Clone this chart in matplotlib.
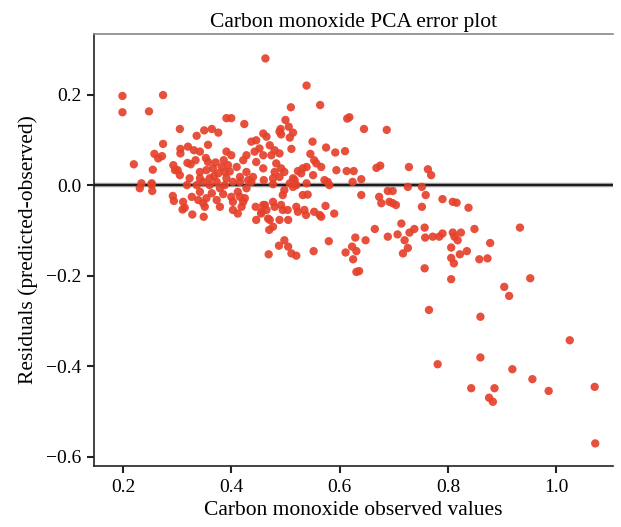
import matplotlib
matplotlib.use('Agg')
import matplotlib.pyplot as plt

observed = [
    0.463, 0.199, 0.199, 0.248, 0.274, 0.391, 0.400, 0.424,
    0.305, 0.350, 0.364, 0.376, 0.336, 0.357, 0.274,
    0.306, 0.320, 0.331, 0.342, 0.306, 0.258, 0.265, 0.272,
    0.220, 0.255, 0.293, 0.301, 0.319, 0.325, 0.357,
    0.391, 0.400, 0.386, 0.394, 0.388,
    0.437, 0.446, 0.459, 0.465, 0.452, 0.443, 0.428, 0.422, 0.459, 0.446, 0.459, 0.428, 0.440, 0.460,
    0.342, 0.354, 0.366, 0.376, 0.342, 0.360, 0.373, 0.391, 0.403, 0.416, 0.431, 0.323, 0.305, 0.296,
    0.234, 0.253,
    0.231, 0.253, 0.254, 0.292, 0.294, 0.311, 0.314, 0.310, 0.328, 0.349,
    0.327, 0.339, 0.348, 0.354, 0.351, 0.342, 0.336, 0.348, 0.360, 0.379, 0.373, 0.379,
    0.400, 0.403, 0.412, 0.416, 0.422, 0.425, 0.403, 0.412, 0.419, 0.428, 0.437, 0.416, 0.388,
    0.445, 0.459, 0.465, 0.446, 0.455, 0.468, 0.470, 0.469,
    0.539, 0.510, 0.564, 0.614, 0.618, 0.645, 0.687,
    0.500, 0.506, 0.491, 0.489, 0.492, 0.514, 0.508,
    0.550, 0.511, 0.575, 0.592, 0.610, 0.471, 0.480, 0.489, 0.474,
    0.546, 0.553, 0.557, 0.566, 0.539, 0.532, 0.523, 0.529,
    0.483, 0.492, 0.480, 0.498, 0.489, 0.477,
    0.594, 0.613, 0.626, 0.551, 0.668, 0.675, 0.728, 0.763, 0.769,
    0.572, 0.578, 0.640, 0.477, 0.514, 0.520, 0.539, 0.624, 0.508,
    0.689, 0.698, 0.726, 0.752,
    0.498, 0.514, 0.517, 0.581, 0.495, 0.532, 0.541, 0.640,
    0.673, 0.677, 0.692, 0.698, 0.704, 0.752, 0.759,
    0.462, 0.477, 0.480, 0.492, 0.495, 0.504, 0.520, 0.523, 0.535, 0.538, 0.553, 0.563, 0.566, 0.574, 0.590,
    0.456, 0.471, 0.489, 0.505, 0.477,
    0.498, 0.488, 0.505, 0.511, 0.520,
    0.552, 0.580, 0.611, 0.623, 0.631, 0.625, 0.629, 0.648, 0.631, 0.636,
    0.665, 0.689, 0.707, 0.714, 0.720, 0.726, 0.717, 0.729, 0.738, 0.757, 0.758, 0.757, 0.765,
    0.790, 0.809, 0.816, 0.838,
    0.772, 0.784, 0.790, 0.809, 0.812, 0.818, 0.824, 0.849, 0.878, 0.933,
    0.806, 0.806, 0.811, 0.822, 0.835, 0.858, 0.873,
    0.806, 0.904, 0.913, 0.952,
    0.860, 1.025, 0.781, 0.860, 0.919, 0.956, 0.986, 1.071, 0.843, 0.886, 0.876, 0.883, 1.072,
    0.368, 0.382, 0.397, 0.410, 0.353, 0.334, 0.318, 0.364, 0.385, 0.371,
]
residuals = [
    0.280, 0.197, 0.161, 0.163, 0.199, 0.148, 0.148, 0.135,
    0.124, 0.121, 0.124, 0.116, 0.109, 0.089, 0.091,
    0.080, 0.085, 0.077, 0.074, 0.070, 0.069, 0.059, 0.064,
    0.046, 0.034, 0.044, 0.033, 0.049, 0.046, 0.051,
    0.074, 0.066, 0.055, 0.044, 0.029,
    0.096, 0.099, 0.114, 0.107, 0.081, 0.074, 0.066, 0.055, 0.066, 0.051, 0.037, 0.029, 0.018, 0.011,
    0.029, 0.033, 0.037, 0.026, 0.015, 0.015, 0.007, 0.015, 0.007, 0.018, 0.011, 0.015, 0.022, 0.033,
    0.004, 0.004,
    -0.007, 0.000, -0.013, -0.024, -0.035, -0.037, -0.050, -0.054, -0.065, -0.070,
    -0.026, -0.033, -0.040, -0.029, -0.048, -0.015, 0.000, 0.007, 0.000, -0.007, -0.033, -0.048,
    -0.026, -0.037, -0.015, -0.026, -0.037, -0.029, -0.055, -0.063, -0.048, -0.007, 0.007, 0.007, 0.000,
    -0.048, -0.044, -0.055, -0.077, -0.063, -0.074, -0.099, -0.153,
    0.220, 0.172, 0.177, 0.147, 0.150, 0.124, 0.122,
    0.144, 0.129, 0.124, 0.118, 0.112, 0.116, 0.105,
    0.096, 0.080, 0.083, 0.072, 0.075, 0.088, 0.077, 0.070, 0.066,
    0.069, 0.055, 0.048, 0.040, 0.040, 0.037, 0.031, 0.026,
    0.048, 0.037, 0.029, 0.029, 0.018, 0.015,
    0.033, 0.031, 0.031, 0.022, 0.038, 0.043, 0.040, 0.035, 0.022,
    0.011, 0.007, 0.013, 0.002, 0.015, 0.000, 0.004, 0.007, 0.004,
    -0.013, -0.013, -0.004, -0.004,
    -0.011, -0.004, 0.011, 0.000, -0.022, -0.022, -0.021, -0.022,
    -0.026, -0.040, -0.037, -0.040, -0.044, -0.048, -0.022,
    -0.044, -0.037, -0.048, -0.044, -0.055, -0.055, -0.048, -0.059, -0.055, -0.066, -0.059, -0.066, -0.070, -0.046, -0.063,
    -0.059, -0.077, -0.077, -0.077, -0.092,
    -0.122, -0.134, -0.136, -0.151, -0.156,
    -0.146, -0.124, -0.149, -0.136, -0.146, -0.164, -0.116, -0.122, -0.192, -0.190,
    -0.097, -0.114, -0.109, -0.085, -0.122, -0.139, -0.151, -0.105, -0.097, -0.094, -0.116, -0.184, -0.276,
    -0.031, -0.037, -0.039, -0.050,
    -0.114, -0.114, -0.107, -0.105, -0.114, -0.122, -0.105, -0.097, -0.128, -0.094,
    -0.138, -0.161, -0.173, -0.153, -0.146, -0.164, -0.162,
    -0.208, -0.225, -0.245, -0.206,
    -0.291, -0.343, -0.396, -0.381, -0.407, -0.429, -0.455, -0.446, -0.449, -0.449, -0.470, -0.479, -0.571,
    0.020, 0.040, 0.030, 0.040, 0.060, 0.055, 0.000, -0.018, -0.020, 0.050,
]
x_ticks = [0.2, 0.4, 0.6, 0.8, 1.0]
y_ticks = [0.2, 0.0, -0.2, -0.4, -0.6]

plt.rcParams['font.family'] = ['Liberation Serif', 'DejaVu Serif']
plt.rcParams['axes.unicode_minus'] = True

fig = plt.figure(figsize=(6.21, 5.27), dpi=100)
ax = fig.add_axes([0.1514, 0.1157, 0.835, 0.8198])

ax.axhline(0, color='#9a9a9a', lw=3.2, zorder=1)
ax.axhline(0, color='#1a1a1a', lw=1.4, zorder=1)
ax.scatter(observed, residuals, s=36, color='#e5412b', alpha=0.92,
           edgecolors='none', zorder=2)

ax.set_xlim(0.1465, 1.104)
ax.set_ylim(-0.621, 0.334)
ax.set_xticks(x_ticks)
ax.set_xticklabels([f'{t:.1f}' for t in x_ticks])
ax.set_yticks(y_ticks)
ax.set_yticklabels([f'{t:.1f}'.replace('-', '\u2212') for t in y_ticks])

ax.spines['right'].set_visible(False)
ax.spines['top'].set_color('#888888')
ax.spines['top'].set_linewidth(1.2)
for side in ['left', 'bottom']:
    ax.spines[side].set_color('#222222')
    ax.spines[side].set_linewidth(1.2)
ax.tick_params(axis='both', direction='out', length=5, width=1.5,
               labelsize=14, color='#222222', pad=4)

ax.set_title('Carbon monoxide PCA error plot', fontsize=15.5, pad=5)
ax.set_xlabel('Carbon monoxide observed values', fontsize=15.5, labelpad=4)
ax.set_ylabel('Residuals (predicted-observed)', fontsize=15.5, labelpad=6)

fig.savefig('out.png', dpi=100)
